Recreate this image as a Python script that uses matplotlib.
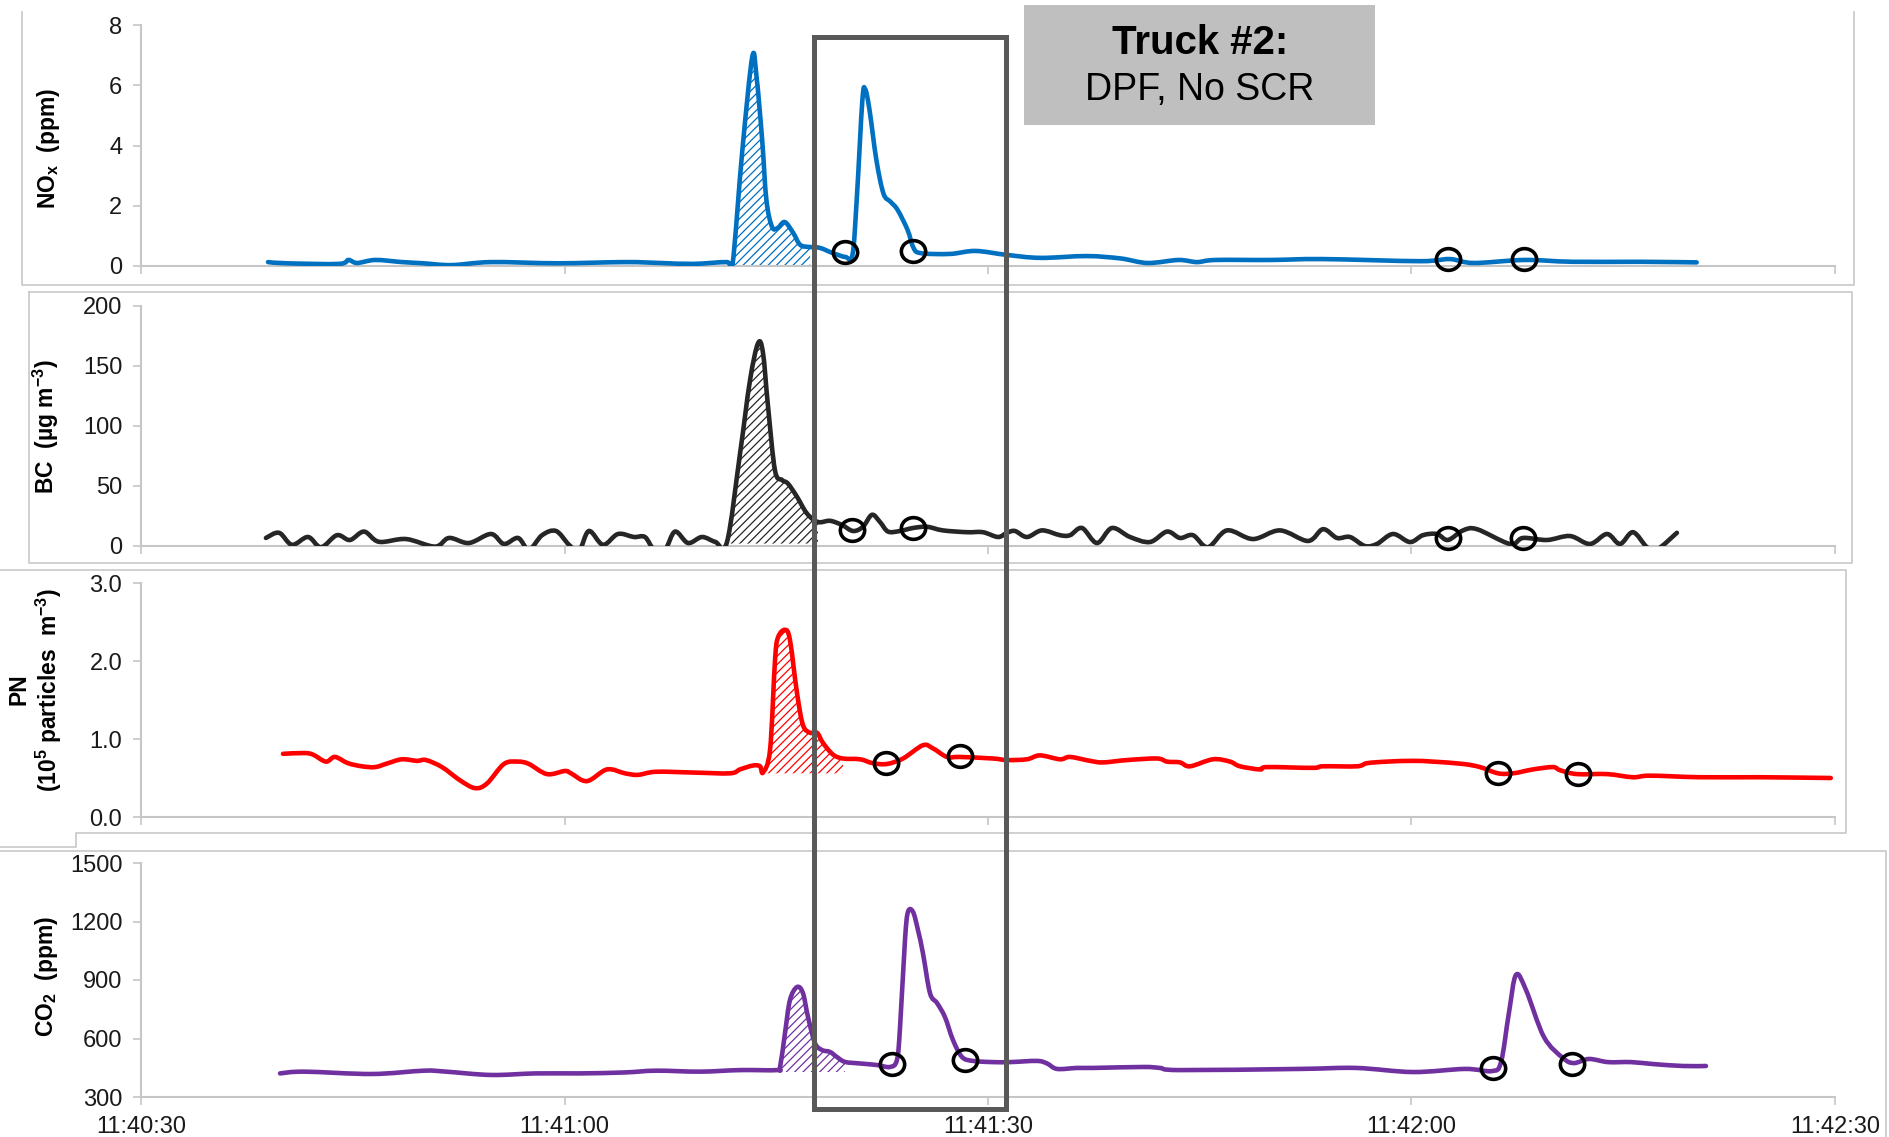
import numpy as np
import matplotlib
matplotlib.use("Agg")
import matplotlib.pyplot as plt
from matplotlib.path import Path
from matplotlib.transforms import Affine2D
from matplotlib.patches import Rectangle, PathPatch
from matplotlib.lines import Line2D

plt.rcParams['font.family'] = ['Liberation Sans', 'DejaVu Sans']
plt.rcParams['mathtext.default'] = 'regular'
plt.rcParams['hatch.linewidth'] = 0.9

# ---- time axis (seconds after 11:40:30) ----
time_ticks = [0, 30, 60, 90, 120]
time_labels = ['11:40:30', '11:41:00', '11:41:30', '11:42:00', '11:42:30']

# ---- NOx (ppm) ----
nox_t = [9.0, 10.3, 14.0, 14.7, 15.3, 16.6, 18.5, 20.0, 22.0, 24.8, 29.5, 34.3, 36.8, 39.1,
         41.5, 41.9, 42.6, 43.3, 43.6, 44.0, 44.3, 44.7, 45.1, 45.6, 46.2, 46.7, 47.4, 48.1,
         49.0, 49.9, 50.4, 50.7, 51.1, 51.3, 51.6, 52.1, 52.6, 53.1, 53.6, 54.3, 54.7, 55.2,
         57.3, 59.1, 61.3, 63.7, 67.0, 69.4, 71.3, 73.5, 74.8, 76.1, 80.0, 83.7, 90.6, 92.7,
         94.4, 98.0, 101.4, 106.2, 110.2]
nox_v = [0.13, 0.09, 0.07, 0.20, 0.10, 0.20, 0.13, 0.09, 0.03, 0.13, 0.09, 0.13, 0.10, 0.07,
         0.13, 0.04, 3.85, 6.94, 6.3, 4.2, 2.2, 1.3, 1.26, 1.46, 1.1, 0.7, 0.63, 0.6,
         0.43, 0.3, 0.37, 2.2, 5.5, 5.87, 5.2, 3.5, 2.4, 2.13, 1.86, 1.2, 0.63, 0.43,
         0.40, 0.50, 0.37, 0.27, 0.33, 0.25, 0.10, 0.20, 0.13, 0.20, 0.20, 0.23, 0.16, 0.23,
         0.10, 0.20, 0.14, 0.14, 0.12]
nox_plume = (41.9, 47.5, 0.0)
nox_marks_t = [49.9, 54.7, 92.6, 98.0]
nox_marks_v = [0.47, 0.50, 0.23, 0.23]

# ---- BC (ug m-3) ----
bc_t = [8.85, 9.78, 10.70, 11.83, 12.75, 13.88, 14.80, 15.80, 16.86, 18.77, 20.83, 21.82,
        23.23, 24.79, 25.71, 26.71, 27.48, 28.41, 29.40, 30.32, 31.03, 31.73, 32.73, 33.79,
        34.92, 35.70, 36.34, 37.12, 37.83, 38.75, 39.74, 40.67, 41.51, 42.44, 43.14, 43.71,
        44.06, 44.42, 44.91, 45.41, 45.83, 46.47, 47.18, 47.96, 48.81, 49.66, 50.44, 51.14,
        51.78, 52.35, 52.92, 53.76, 54.69, 55.68, 56.81, 58.51, 59.64, 60.71, 61.34, 61.91,
        62.76, 63.82, 65.10, 65.81, 66.66, 67.72, 68.78, 70.06, 71.47, 72.68, 73.60, 74.52,
        75.58, 76.93, 78.77, 80.68, 82.67, 83.73, 84.72, 85.64, 86.70, 87.55, 88.69, 89.89,
        90.81, 91.80, 92.58, 93.65, 94.64, 96.98, 97.90, 99.60, 101.23, 102.64, 103.85,
        104.77, 105.69, 106.68, 107.39, 108.80]
bc_v = [6.7, 11, 1, 7.5, -1, 9, 5, 12, 3.5, 5.8, -0.5, 6.7,
        2.5, 10, 1.7, 6.7, -3, 9, 12.5, 1, -4, 12.5, 1, 10,
        7.5, 7.5, -3, -3, 12, 2.5, 7.5, 3.5, 3.3, 77.5, 138, 169,
        161, 116, 63, 55, 52, 41, 27, 20, 21, 17.5, 12.5, 16,
        26, 20, 12, 12.5, 15, 16, 13, 11.5, 11.5, 7.5, 11, 12.5,
        7.5, 13, 9, 9, 15, 2.5, 15, 7.5, 3.3, 12, 6.7, 9,
        -1, 13, 5.8, 13, 4.2, 14, 6.7, 7.5, 0, 1.7, 10, 3.3,
        9, 10, 5, 13, 14, 1.7, 6.7, 5, 8.3, 1.7, 10,
        1.7, 11.5, -1, -3, 11]
bc_plume = (41.5, 48.0, 2.0)
bc_marks_t = [50.4, 54.7, 92.6, 97.9]
bc_marks_v = [13.3, 15, 6.7, 6.7]

# ---- PN (1e5 particles m-3) ----
pn_t = [10.06, 11.55, 12.18, 13.10, 13.74, 14.66, 15.65, 16.58, 17.50, 18.49, 19.55, 20.19,
        21.32, 22.60, 23.66, 24.51, 25.71, 26.71, 27.48, 28.76, 30.03, 30.46, 31.59, 33.01,
        34.28, 35.20, 36.48, 39.10, 41.72, 42.43, 43.35, 43.85, 44.06, 44.56, 44.91, 45.12,
        45.62, 45.97, 46.47, 46.89, 47.39, 47.89, 48.31, 49.02, 49.73, 50.93, 51.85, 52.84,
        53.98, 55.39, 56.10, 57.09, 58.01, 60.35, 61.34, 62.76, 63.68, 65.10, 65.81, 67.22,
        68.14, 69.85, 71.97, 72.68, 73.60, 74.31, 75.94, 77.14, 77.85, 79.27, 79.76, 83.02,
        83.73, 86.14, 86.85, 88.26, 90.10, 91.52, 93.65, 94.85, 96.13, 97.19, 98.61, 100.02,
        100.52, 101.72, 103.85, 105.69, 106.89, 110.43, 114.68, 119.7]
pn_v = [0.81, 0.82, 0.80, 0.71, 0.77, 0.69, 0.65, 0.64, 0.69, 0.74, 0.72, 0.73,
        0.64, 0.47, 0.37, 0.43, 0.68, 0.71, 0.68, 0.55, 0.59, 0.56, 0.46, 0.61,
        0.56, 0.54, 0.58, 0.57, 0.56, 0.61, 0.66, 0.65, 0.57, 0.86, 2.0, 2.3,
        2.40, 2.27, 1.59, 1.18, 1.08, 1.08, 0.95, 0.80, 0.75, 0.74, 0.69, 0.68,
        0.75, 0.92, 0.88, 0.77, 0.77, 0.75, 0.73, 0.74, 0.79, 0.74, 0.77, 0.72,
        0.70, 0.73, 0.75, 0.71, 0.70, 0.65, 0.74, 0.71, 0.65, 0.61, 0.64, 0.63,
        0.65, 0.65, 0.69, 0.71, 0.72, 0.71, 0.68, 0.64, 0.56, 0.56, 0.61, 0.64,
        0.60, 0.55, 0.55, 0.51, 0.53, 0.51, 0.51, 0.50]
pn_plume = (44.0, 49.8, 0.56)
pn_marks_t = [52.8, 58.0, 96.1, 101.8]
pn_marks_v = [0.69, 0.78, 0.56, 0.55]

# ---- CO2 (ppm) ----
co2_t = [9.85, 11.55, 16.36, 20.05, 21.61, 24.79, 27.98, 31.10, 34.28, 36.48, 39.60, 42.43,
         45.05, 45.27, 45.62, 45.97, 46.47, 46.89, 47.25, 47.74, 48.24, 48.81, 49.30, 49.87,
         50.93, 52.14, 53.06, 53.55, 53.77, 54.12, 54.33, 54.69, 55.04, 55.39, 55.89, 56.39,
         56.95, 57.52, 58.16, 58.94, 60.35, 61.56, 63.47, 64.18, 64.89, 66.30, 67.44, 70.98,
         72.18, 73.60, 82.10, 86.07, 90.10, 93.79, 95.70, 96.34, 96.90, 97.40, 98.11, 99.38,
         100.73, 101.51, 102.57, 103.92, 105.55, 107.11, 109.23, 110.86]
co2_v = [421, 430, 418, 435, 430, 413, 421, 421, 426, 435, 430, 438,
         438, 454, 628, 797, 864, 833, 710, 577, 541, 531, 505, 480,
         472, 464, 454, 490, 659, 1105, 1249, 1249, 1156, 1038, 833, 782,
         710, 592, 505, 485, 479, 479, 485, 472, 444, 449, 449, 454,
         449, 438, 444, 449, 428, 444, 433, 479, 731, 926, 849, 608,
         500, 474, 495, 479, 479, 469, 459, 459]
co2_plume = (45.1, 49.9, 428)
co2_marks_t = [53.2, 58.4, 95.8, 101.4]
co2_marks_v = [469, 490, 449, 469]

# ---- figure layout in pixels ----
W, H = 1889, 1137
fig = plt.figure(figsize=(W / 100, H / 100), dpi=100)


def px_box(left, top, right, bottom):
    return [left / W, 1 - bottom / H, (right - left) / W, (bottom - top) / H]


def fpos(x, y):
    return (x / W, 1 - y / H)


def smooth_segments(P, i0, i1):
    """Cubic Bezier (Catmull-Rom style) segments through P[i0..i1], like a smoothed line."""
    n = len(P)
    verts, codes = [], []
    for i in range(i0, i1):
        p0 = P[i - 1] if i > 0 else P[i]
        p1, p2 = P[i], P[i + 1]
        p3 = P[i + 2] if i + 2 < n else P[i + 1]
        verts += [p1 + (p2 - p0) / 6.0, p2 - (p3 - p1) / 6.0, p2]
        codes += [Path.CURVE4] * 3
    return verts, codes


AXIS_GRAY = '#c6c6c6'
FRAME_GRAY = '#c8c8c8'
TICK_FONT = 17
ring = Path.unit_circle().transformed(Affine2D().scale(1.12, 1.0))

panels = [
    dict(t=nox_t, v=nox_v, plume=nox_plume, mt=nox_marks_t, mv=nox_marks_v,
         color='#0070c0', box=(141, 25, 1835, 266), ylim=(0, 8), yticks=[0, 2, 4, 6, 8],
         yfmt='{:.0f}'),
    dict(t=bc_t, v=bc_v, plume=bc_plume, mt=bc_marks_t, mv=bc_marks_v,
         color='#262626', box=(141, 306, 1835, 546), ylim=(0, 200),
         yticks=[0, 50, 100, 150, 200], yfmt='{:.0f}'),
    dict(t=pn_t, v=pn_v, plume=pn_plume, mt=pn_marks_t, mv=pn_marks_v,
         color='#ff0000', box=(141, 583, 1835, 817), ylim=(0, 3),
         yticks=[0, 1, 2, 3], yfmt='{:.1f}'),
    dict(t=co2_t, v=co2_v, plume=co2_plume, mt=co2_marks_t, mv=co2_marks_v,
         color='#7030a0', box=(141, 863, 1835, 1097), ylim=(300, 1500),
         yticks=[300, 600, 900, 1200, 1500], yfmt='{:.0f}'),
]

for i, p in enumerate(panels):
    ax = fig.add_axes(px_box(*p['box']))
    ax.set_facecolor('none')
    t = np.asarray(p['t'], float)
    v = np.asarray(p['v'], float)
    P = np.column_stack([t, v])

    # hatched plume area between the smoothed trace and the local baseline
    t0, t1, base = p['plume']
    idx = np.where((t >= t0) & (t <= t1))[0]
    i0, i1 = idx[0], idx[-1]
    sv, sc = smooth_segments(P, i0, i1)
    fverts = [(t[i0], base), P[i0]] + sv + [(t[i1], base), (t[i0], base)]
    fcodes = [Path.MOVETO, Path.LINETO] + sc + [Path.LINETO, Path.CLOSEPOLY]
    ax.add_patch(PathPatch(Path(fverts, fcodes), facecolor='white', edgecolor=p['color'],
                           hatch='////', linewidth=0, zorder=2))

    # smoothed trace
    sv, sc = smooth_segments(P, 0, len(P) - 1)
    trace = Path([P[0]] + sv, [Path.MOVETO] + sc)
    ax.add_patch(PathPatch(trace, facecolor='none', edgecolor=p['color'], lw=3.3,
                           joinstyle='round', capstyle='round', zorder=3))

    ax.plot(p['mt'], p['mv'], linestyle='none', marker=ring, ms=17.5,
            markerfacecolor='none', markeredgecolor='black', markeredgewidth=2.6,
            zorder=4, clip_on=False)
    ax.set_xlim(0, 120)
    ax.set_ylim(*p['ylim'])
    ax.set_xticks(time_ticks)
    if i == len(panels) - 1:
        ax.set_xticklabels(time_labels, fontsize=TICK_FONT)
    else:
        ax.set_xticklabels([])
    ax.set_yticks(p['yticks'])
    ax.set_yticklabels([p['yfmt'].format(y) for y in p['yticks']], fontsize=TICK_FONT)
    for s in ('top', 'right'):
        ax.spines[s].set_visible(False)
    for s in ('left', 'bottom'):
        ax.spines[s].set_color(AXIS_GRAY)
        ax.spines[s].set_linewidth(1.5)
    ax.tick_params(axis='both', colors=AXIS_GRAY, labelcolor='#1a1a1a',
                   direction='out', length=5.5, width=1.2)
    ax.tick_params(axis='y', pad=8)
    ax.tick_params(axis='x', pad=8)

# axis titles
lab = dict(rotation=90, ha='center', va='center', fontsize=16.5, fontweight='bold',
           color='black')
fig.text(*fpos(49, 148), 'NO$_x$  (ppm)', **lab)
fig.text(*fpos(46, 427), 'BC  (µg m$^{-3}$)', **lab)
fig.text(*fpos(19, 689), 'PN', **lab)
fig.text(*fpos(49, 690), '(10$^5$ particles  m$^{-3}$)', **lab)
fig.text(*fpos(46, 976), 'CO$_2$  (ppm)', **lab)

# overlay in pixel space for panel frames and annotations
ov = fig.add_axes([0, 0, 1, 1])
ov.set_xlim(0, W)
ov.set_ylim(H, 0)
ov.axis('off')
ov.patch.set_visible(False)

frames = [
    [(22, 12), (22, 285), (1854, 285), (1854, 12)],
    [(29, 292), (1852, 292), (1852, 563), (29, 563), (29, 292)],
    [(0, 570), (1846, 570), (1846, 833), (76, 833), (76, 847), (0, 847)],
    [(0, 851), (1886, 851), (1886, 1137)],
]
for fr in frames:
    xs, ys = zip(*fr)
    ov.add_line(Line2D(xs, ys, color=FRAME_GRAY, lw=1.2))

# title badge
ov.add_patch(Rectangle((1024, 5), 351, 120, facecolor='#bfbfbf', edgecolor='none'))
ov.text(1200, 43, 'Truck #2:', ha='center', va='center', fontsize=29,
        fontweight='bold', color='black')
ov.text(1200, 90, 'DPF, No SCR', ha='center', va='center', fontsize=27, color='black')

# highlight window around the second plume
ov.add_patch(Rectangle((814, 37), 192, 1072, fill=False, edgecolor='#595959', lw=3.6,
                       zorder=10))

fig.savefig('out.png', dpi=100)
